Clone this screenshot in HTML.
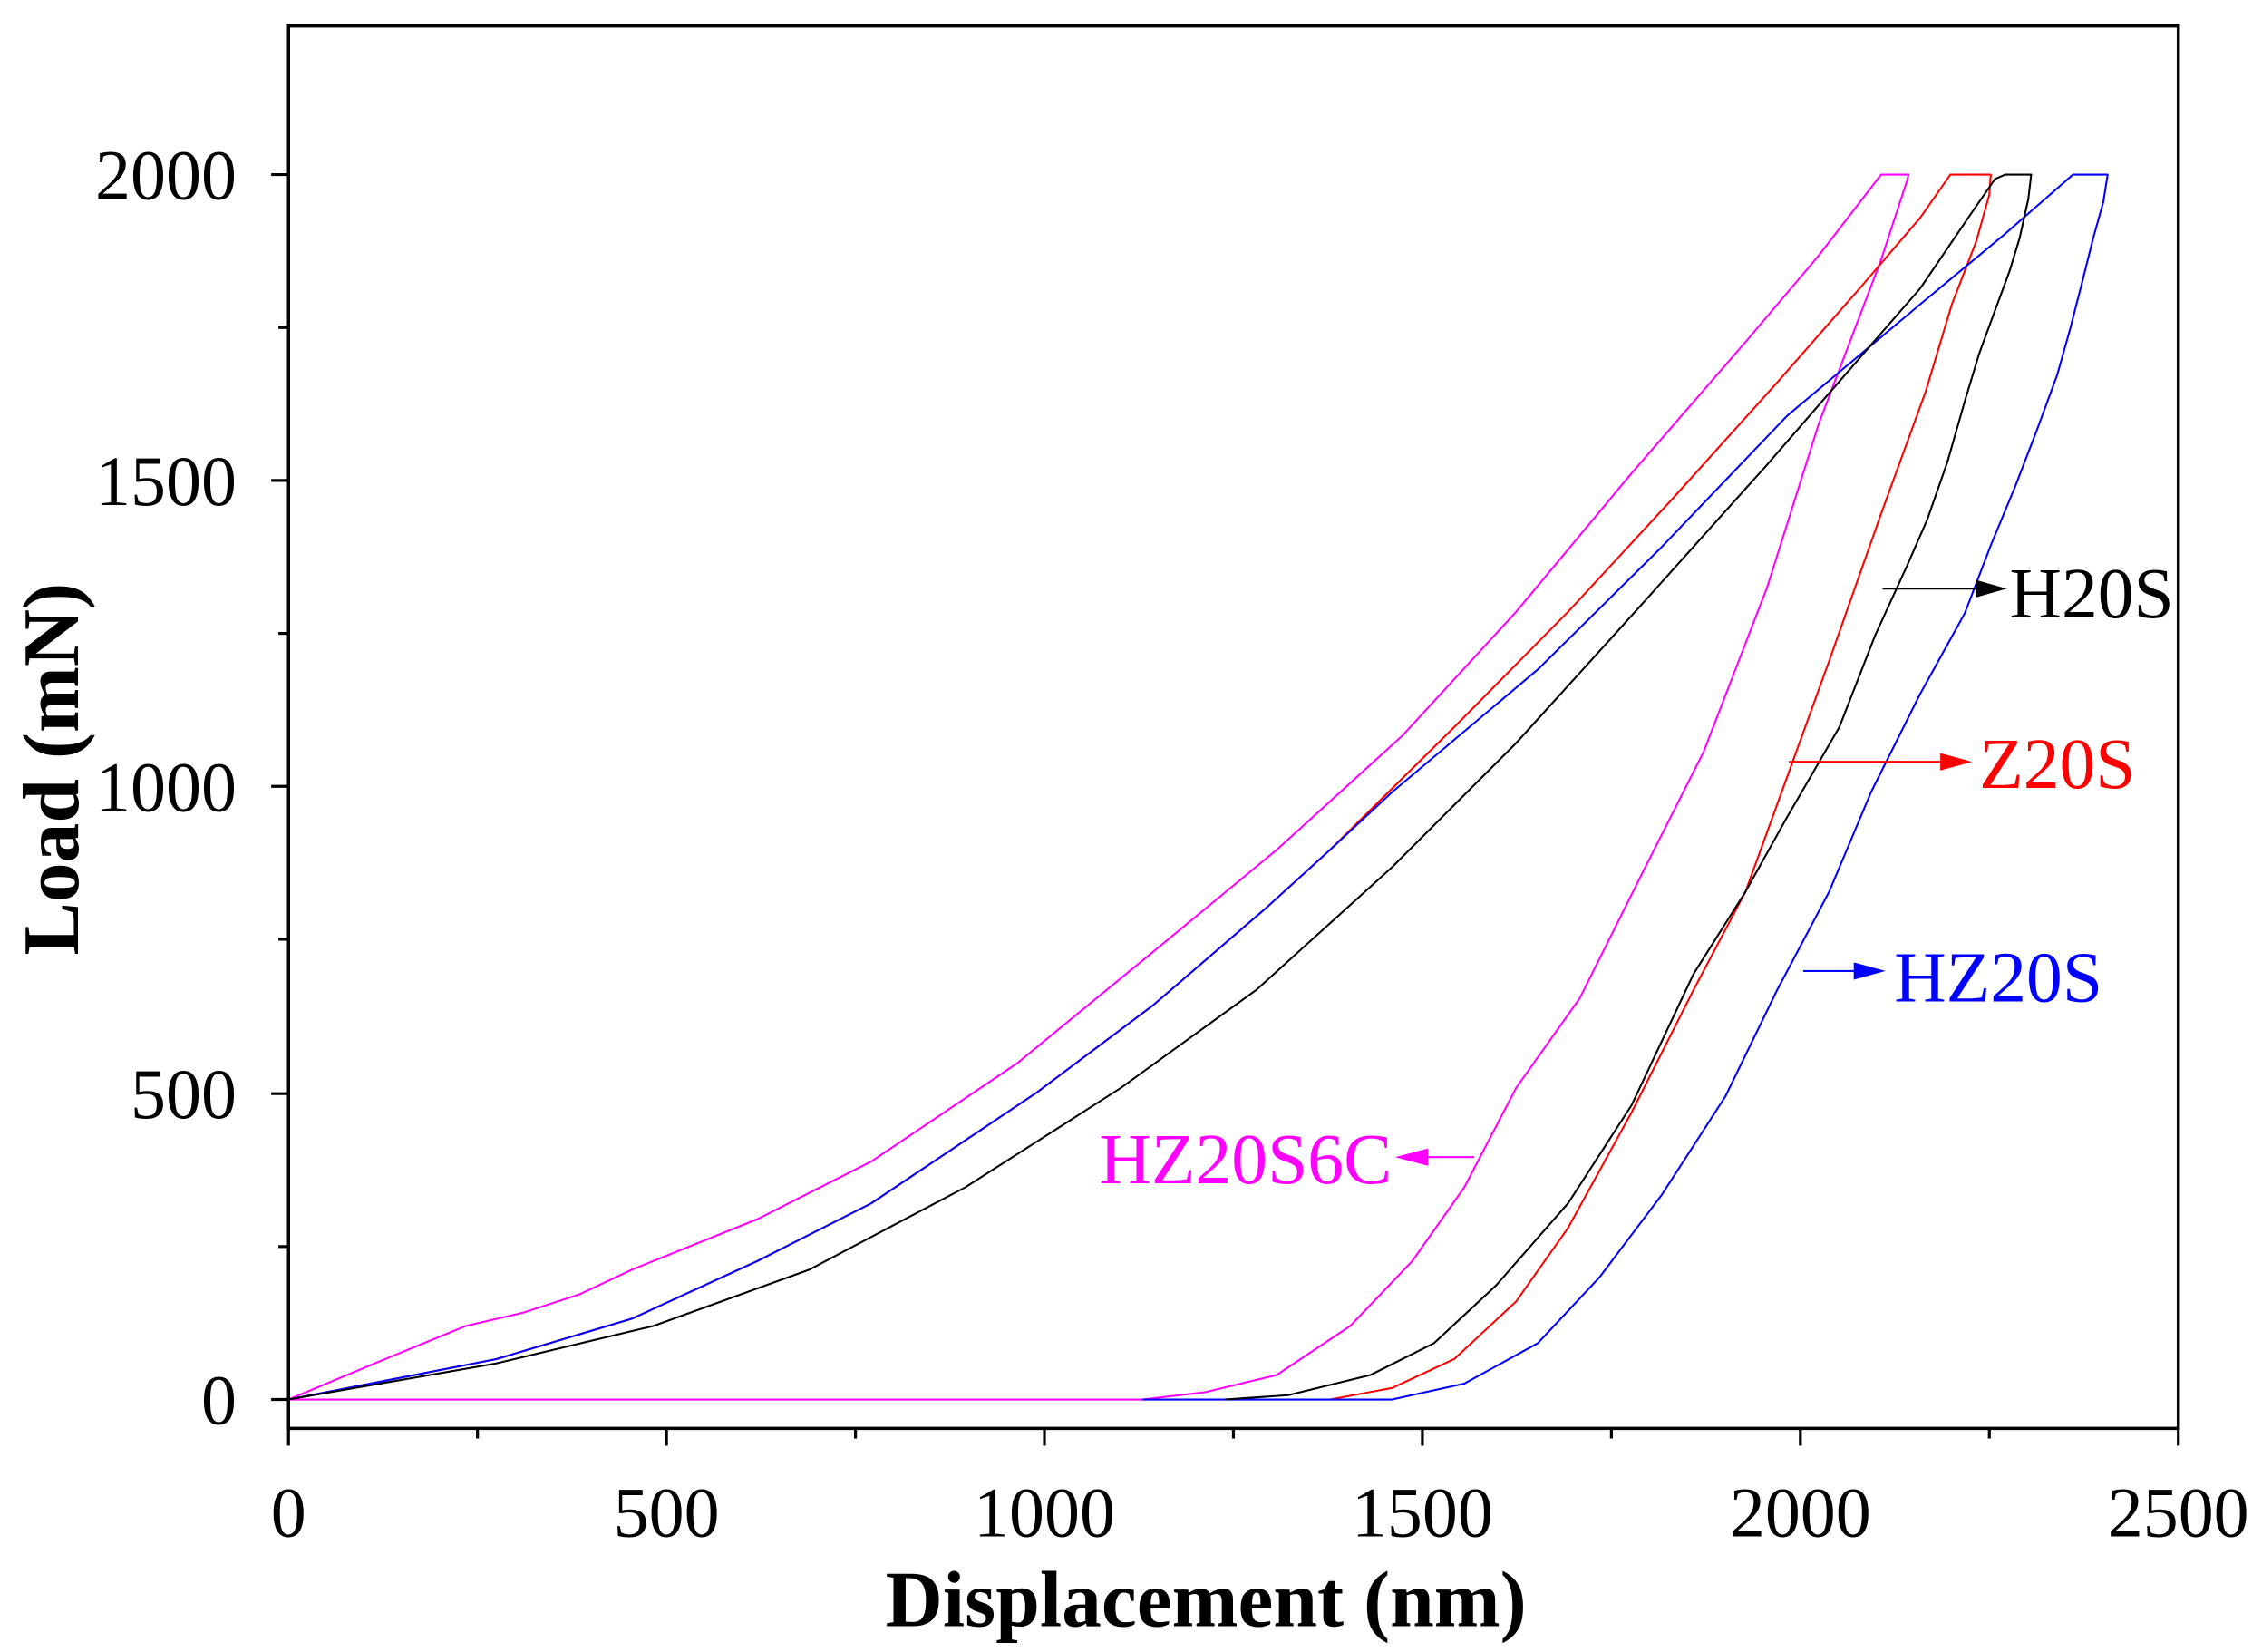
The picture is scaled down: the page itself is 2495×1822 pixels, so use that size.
<!DOCTYPE html>
<html><head><style>html,body{margin:0;padding:0;background:#fff}svg{display:block}</style></head>
<body>
<svg width="2495" height="1822" viewBox="0 0 1568 1145" preserveAspectRatio="none" xmlns="http://www.w3.org/2000/svg">
<rect width="1568" height="1145" fill="#fff"/>
<g fill="none" stroke-width="1.3" stroke-linejoin="round">
<polyline stroke="#ff00ff" points="200,970 262,944 323,919 362,910 402,897 438,880 525,845 604,805 705,737 799,660 885,589 972,510 1051,424 1131,328 1210,237 1260,178 1304,121 1323,121 1322,125 1304,180 1261,293 1225,407 1181,521 1138,606 1095,692 1051,754 1015,823 979,874 936,919 885,953 835,965 792,970 200,970"/>
<polyline stroke="#ff0000" points="200,970 344,942 438,914 525,874 604,834 719,757 799,697 878,629 922,589 1008,504 1087,424 1160,345 1232,265 1289,200 1331,151 1352,121 1380,121 1379,135 1370,167 1353,211 1335,271 1304,356 1268,458 1239,538 1210,618 1174,686 1131,771 1087,851 1051,902 1008,942 965,962 922,970"/>
<polyline stroke="#0000ff" points="200,970 344,942 438,914 525,874 604,834 719,757 799,697 878,629 922,589 965,549 1066,464 1152,379 1239,288 1331,211 1390,162 1437,121 1461,121 1458,140 1451,165 1444,193 1435,228 1426,260 1412,298 1397,337 1380,378 1362,425 1331,481 1297,549 1268,618 1232,686 1196,760 1152,828 1109,885 1066,931 1015,959 965,970 792,970"/>
<polyline stroke="#000000" points="200,970 344,945 453,919 561,880 669,823 777,754 871,686 965,601 1051,515 1138,419 1225,322 1304,231 1331,200 1365,150 1383,124 1390,121 1408,121 1406,138 1400,165 1393,188 1383,215 1372,245 1362,278 1350,320 1336,360 1322,392 1300,440 1275,504 1239,566 1210,618 1174,675 1131,766 1087,834 1037,891 994,931 950,953 893,967 849,970"/>
</g>
<rect x="200" y="18" width="1310" height="972" fill="none" stroke="#000" stroke-width="2.2"/>
<g stroke="#000" stroke-width="2">
<line x1="200" y1="990" x2="200" y2="1002"/><line x1="462" y1="990" x2="462" y2="1002"/><line x1="724" y1="990" x2="724" y2="1002"/><line x1="986" y1="990" x2="986" y2="1002"/><line x1="1248" y1="990" x2="1248" y2="1002"/><line x1="1510" y1="990" x2="1510" y2="1002"/>
<line x1="331" y1="990" x2="331" y2="997"/><line x1="593" y1="990" x2="593" y2="997"/><line x1="855" y1="990" x2="855" y2="997"/><line x1="1117" y1="990" x2="1117" y2="997"/><line x1="1379" y1="990" x2="1379" y2="997"/>
<line x1="188" y1="970" x2="200" y2="970"/><line x1="188" y1="758" x2="200" y2="758"/><line x1="188" y1="545" x2="200" y2="545"/><line x1="188" y1="333" x2="200" y2="333"/><line x1="188" y1="121" x2="200" y2="121"/>
<line x1="193" y1="864" x2="200" y2="864"/><line x1="193" y1="651" x2="200" y2="651"/><line x1="193" y1="439" x2="200" y2="439"/><line x1="193" y1="227" x2="200" y2="227"/>
</g>
<g font-family="Liberation Serif, serif" font-size="49" fill="#000">
<g text-anchor="end"><text x="164" y="987">0</text><text x="164" y="775">500</text><text x="164" y="562">1000</text><text x="164" y="350">1500</text><text x="164" y="138">2000</text></g>
<g text-anchor="middle"><text x="200" y="1065">0</text><text x="462" y="1065">500</text><text x="724" y="1065">1000</text><text x="986" y="1065">1500</text><text x="1248" y="1065">2000</text><text x="1510" y="1065">2500</text></g>
<text x="836" y="1127" text-anchor="middle" font-weight="bold" font-size="55">Displacement (nm)</text>
<text transform="translate(54,533) rotate(-90)" text-anchor="middle" font-weight="bold" font-size="55">Load (mN)</text>
<text x="1393" y="428" font-size="50">H20S</text>
<text x="1372" y="546" font-size="50" fill="#ff0000">Z20S</text>
<text x="1313" y="694" font-size="50" fill="#0000ff">HZ20S</text>
<text x="762" y="820" font-size="50" fill="#ff00ff">HZ20S6C</text>
</g>
<g stroke-width="1.3">
<line x1="1305" y1="408" x2="1375" y2="408" stroke="#000"/><polygon points="1370,402 1391,408 1370,414" fill="#000"/>
<line x1="1240" y1="528" x2="1350" y2="528" stroke="#ff0000"/><polygon points="1345,522 1367,528 1345,534" fill="#ff0000"/>
<line x1="1250" y1="673" x2="1290" y2="673" stroke="#0000ff"/><polygon points="1285,667 1307,673 1285,679" fill="#0000ff"/>
<line x1="985" y1="802" x2="1022" y2="802" stroke="#ff00ff"/><polygon points="990,796 967,802 990,808" fill="#ff00ff"/>
</g>
</svg>
</body></html>
